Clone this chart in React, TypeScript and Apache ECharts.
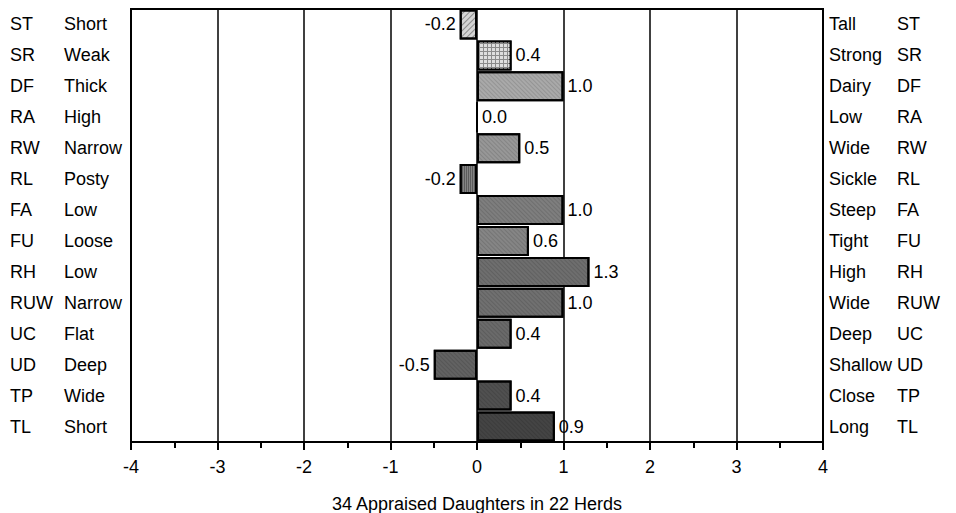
import React, { useEffect, useRef } from "react";
import * as echarts from "echarts";

const codes = ["ST", "SR", "DF", "RA", "RW", "RL", "FA", "FU", "RH", "RUW", "UC", "UD", "TP", "TL"];
const leftDesc = ["Short", "Weak", "Thick", "High", "Narrow", "Posty", "Low", "Loose", "Low", "Narrow", "Flat", "Deep", "Wide", "Short"];
const rightDesc = ["Tall", "Strong", "Dairy", "Low", "Wide", "Sickle", "Steep", "Tight", "High", "Wide", "Deep", "Shallow", "Close", "Long"];
const values = [-0.2, 0.4, 1.0, 0.0, 0.5, -0.2, 1.0, 0.6, 1.3, 1.0, 0.4, -0.5, 0.4, 0.9];
const xTicks = [-4, -3, -2, -1, 0, 1, 2, 3, 4];
const axisTitle = "34 Appraised Daughters in 22 Herds";

const fills = ["#d4d4d4", "#8a8a8a", "#a9a9a9", "#9a9a9a", "#979797", "#848484", "#7e7e7e", "#858585", "#6e6e6e", "#707070", "#6a6a6a", "#626262", "#505050", "#444444"];

const FONT = "Liberation Sans";

function decalFor(i: number): any {
  if (i === 0) {
    return { symbol: "rect", symbolSize: 1, dashArrayX: [1, 0], dashArrayY: [1, 3], rotation: -Math.PI / 4, color: "rgba(0,0,0,0.35)" };
  }
  if (i === 1) {
    return { symbol: "rect", symbolSize: 1, dashArrayX: [3, 1], dashArrayY: [3, 1], rotation: 0, color: "#dedede" };
  }
  if (i === 5) {
    return { symbol: "rect", symbolSize: 1, dashArrayX: [1, 1], dashArrayY: [1, 0], rotation: 0, color: "rgba(0,0,0,0.3)" };
  }
  return { symbol: "rect", symbolSize: 1, dashArrayX: [1, 0], dashArrayY: [1, 2], rotation: Math.PI / 4, color: "rgba(0,0,0,0.12)" };
}

export default function App() {
  const ref = useRef<HTMLDivElement>(null);
  useEffect(() => {
    if (!ref.current) return;
    const chart = echarts.init(ref.current, undefined, { renderer: "svg" });
    const data = values.map((v, i) => ({
      value: v,
      itemStyle: { color: fills[i], borderColor: "#000", borderWidth: 2, decal: decalFor(i) },
      label: {
        show: true,
        position: v < 0 ? "left" : "right",
        distance: 4,
        formatter: v.toFixed(1),
        color: "#000",
        fontSize: 18,
        fontFamily: FONT,
      },
    }));
    chart.setOption({
      animation: false,
      aria: { enabled: true, decal: { show: true } },
      grid: {
        left: 131,
        right: 133,
        top: 9,
        bottom: 71,
        outerBoundsMode: "none",
        containLabel: false,
        show: true,
        borderColor: "#000",
        borderWidth: 2,
        backgroundColor: "#fff",
      },
      xAxis: {
        type: "value",
        min: -4,
        max: 4,
        interval: 1,
        name: axisTitle,
        nameLocation: "middle",
        nameGap: 53,
        nameTextStyle: { fontFamily: FONT, fontSize: 18, color: "#000" },
        axisLine: { show: true, lineStyle: { color: "#000", width: 2 } },
        axisTick: { show: true, inside: false, length: 8, lineStyle: { color: "#000", width: 2 } },
        minorTick: { show: true, splitNumber: 2, length: 6, lineStyle: { color: "#000", width: 2 } },
        splitLine: { show: true, lineStyle: { color: "#000", width: 1.5 } },
        axisLabel: {
          margin: 16,
          fontSize: 18,
          fontFamily: FONT,
          color: "#000",
          formatter: (v: number) => (xTicks.includes(v) ? String(v) : ""),
        },
      },
      yAxis: [
        {
          type: "category",
          data: codes,
          inverse: true,
          position: "left",
          axisLine: { show: false },
          axisTick: { show: false },
          splitLine: { show: false },
          axisLabel: {
            margin: 5,
            formatter: (v: string, i: number) => `{a|${v}}{b|${leftDesc[i]}}`,
            rich: {
              a: { width: 54, align: "left", fontSize: 18, fontFamily: FONT, color: "#000" },
              b: { width: 62, align: "left", fontSize: 18, fontFamily: FONT, color: "#000" },
            },
          },
        },
        {
          type: "category",
          data: codes,
          inverse: true,
          position: "right",
          axisLine: { show: false },
          axisTick: { show: false },
          splitLine: { show: false },
          axisLabel: {
            margin: 6,
            formatter: (v: string, i: number) => `{b|${rightDesc[i]}}{a|${v}}`,
            rich: {
              a: { width: 50, align: "left", fontSize: 18, fontFamily: FONT, color: "#000" },
              b: { width: 68, align: "left", fontSize: 18, fontFamily: FONT, color: "#000" },
            },
          },
        },
      ],
      series: [
        {
          type: "bar",
          yAxisIndex: 0,
          data,
          barCategoryGap: "3%",
        },
      ],
    });
    return () => chart.dispose();
  }, []);
  return <div ref={ref} style={{ width: 956, height: 513, position: "absolute", left: 0, top: 0 }} />;
}
